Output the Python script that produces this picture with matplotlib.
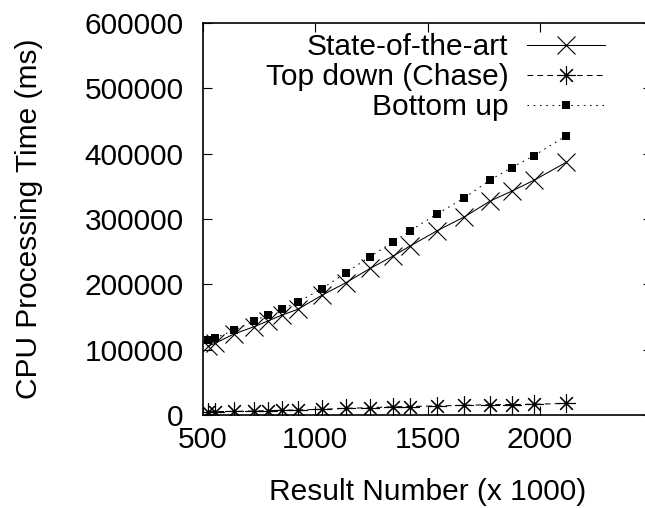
import matplotlib
matplotlib.use("Agg")
import matplotlib.pyplot as plt

plt.rcParams['font.family'] = ['Liberation Sans', 'DejaVu Sans']

# result counts (x 1000), shared by all three runs
result_num = [524, 554, 638, 728, 789, 853, 923, 1030, 1137, 1244,
              1348, 1423, 1543, 1664, 1780, 1875, 1975, 2119]

# CPU processing time in ms
state_of_art = [105700, 109800, 124000, 135200, 143900, 153100, 161900, 183300, 202600, 224300,
                243500, 258800, 282100, 303200, 327700, 342600, 359400, 387000]
top_down = [5000, 5200, 5500, 6100, 6700, 7200, 7700, 8700, 10200, 11200,
            12600, 13000, 13800, 14800, 15800, 16000, 16400, 17800]
bottom_up = [114400, 117900, 129700, 143900, 153600, 162300, 173000, 193400, 217900, 242400,
             264900, 282200, 307800, 332300, 359900, 378700, 397100, 427700]

x_ticks = [500, 1000, 1500, 2000]
y_ticks = [0, 100000, 200000, 300000, 400000, 500000, 600000]

FS = 21.5
W, H = 645, 508
fig = plt.figure(figsize=(W / 100, H / 100), dpi=100)
# right border sits just past the edge of the canvas
ax = fig.add_axes([203 / W, 93 / H, 449 / W, 392 / H])

lw = 0.75
ax.plot(result_num, state_of_art, color='black', lw=lw, marker='x',
        markersize=12.5, markeredgewidth=0.8, label='State-of-the-art')
ax.plot(result_num, top_down, color='black', lw=lw, dashes=(5.5, 4),
        marker=(8, 2, 0), markersize=13, markeredgewidth=0.8, label='Top down (Chase)')
ax.plot(result_num, bottom_up, color='black', lw=lw, dashes=(1.5, 4.5),
        marker='s', markersize=5.8, markerfacecolor='black', markeredgewidth=0,
        label='Bottom up')

ax.set_xlim(500, 2500)
ax.set_ylim(0, 600000)
ax.set_xticks(x_ticks)
ax.set_yticks(y_ticks)
ax.set_xticklabels([str(v) for v in x_ticks])
ax.set_yticklabels([str(v) for v in y_ticks])

ax.tick_params(axis='both', direction='in', length=6.5, width=0.8,
               top=True, right=True, labelsize=FS, colors='black')
ax.tick_params(axis='y', pad=14)
ax.tick_params(axis='x', pad=8)
for sp in ax.spines.values():
    sp.set_linewidth(1.2)

ax.set_xlabel('Result Number (x 1000)', fontsize=FS, labelpad=17)
ax.set_ylabel('CPU Processing Time (ms)', fontsize=FS, va='center')
ax.yaxis.set_label_coords(-174 / 449, 0.5)

ax.legend(loc='upper right', bbox_to_anchor=(605 / W, (H - 33) / H),
          bbox_transform=fig.transFigure, frameon=False, fontsize=FS,
          markerfirst=False, numpoints=1, handlelength=2.6, handletextpad=0.64,
          labelspacing=0.07, borderpad=0, borderaxespad=0)

fig.savefig('out.png', dpi=100)
